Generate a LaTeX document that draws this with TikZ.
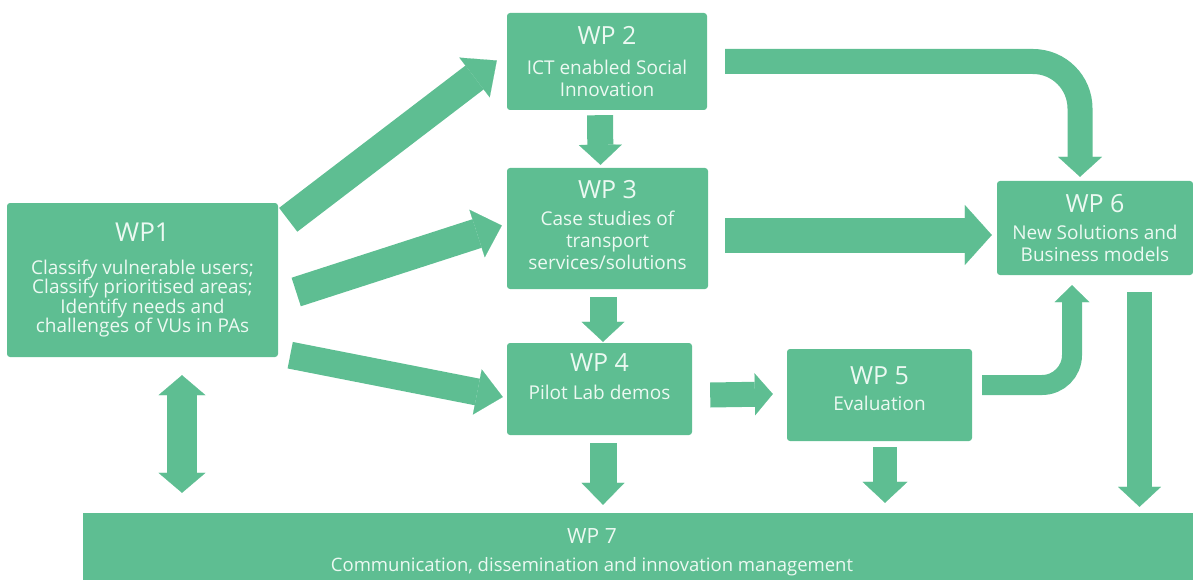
\documentclass[tikz,border=0pt]{standalone}
\usepackage{fontspec}
\setmainfont{Open Sans}
\usetikzlibrary{arrows.meta,calc}
\definecolor{wpgreen}{RGB}{94,190,146}
\definecolor{wptext}{RGB}{236,249,242}
\newcommand{\wphead}[1]{{\fontsize{25}{28}\selectfont #1}}
\begin{document}
\begin{tikzpicture}[x=1pt,y=-1pt,
  wpbox/.style={fill=wpgreen, rounded corners=3pt, inner sep=0pt, text=wptext, align=center, font=\fontsize{19}{22}\selectfont},
  fat/.style n args={3}{draw=wpgreen, line width=#1, -{Triangle[width=#2,length=#3,line width=0.1pt]}},
  fatboth/.style n args={3}{draw=wpgreen, line width=#1, {Triangle[width=#2,length=#3,line width=0.1pt]}-{Triangle[width=#2,length=#3,line width=0.1pt]}}
]
\useasboundingbox (0,0) rectangle (1193,580);

\node[wpbox, minimum width=271pt, minimum height=154pt, font=\fontsize{19}{19.5}\selectfont] (wp1) at (142.5,280)
  {{\fontsize{26}{30}\selectfont WP1}\\[13pt]Classify vulnerable users;\\Classify prioritised areas;\\Identify needs and\\challenges of VUs in PAs};
\node[wpbox, minimum width=200pt, minimum height=97pt] (wp2) at (607,61.5)
  {\wphead{WP 2}\\[8pt]ICT enabled Social\\Innovation};
\node[wpbox, minimum width=201pt, minimum height=121pt] (wp3) at (607.5,228.5)
  {\wphead{WP 3}\\[5pt]Case studies of\\transport\\services/solutions\\[-14pt]\mbox{}};
\node[wpbox, minimum width=185pt, minimum height=92pt] (wp4) at (599.5,389)
  {\wphead{WP 4}\\[6pt]Pilot Lab demos\\[2pt]\mbox{}};
\node[wpbox, minimum width=185pt, minimum height=92pt] (wp5) at (879.5,395)
  {\wphead{WP 5}\\[4pt]Evaluation\\[-10pt]\mbox{}};
\node[wpbox, minimum width=196pt, minimum height=94pt] (wp6) at (1095,228)
  {\wphead{WP 6}\\[5pt]New Solutions and\\Business models};
\node[wpbox, rounded corners=0pt, minimum width=1110pt, minimum height=67pt] (wp7) at (638,546.5) {};
\node[text=wptext, align=center, inner sep=0pt, font=\fontsize{18.5}{28}\selectfont] (wp7text) at (592,552)
  {{\fontsize{21}{24}\selectfont WP 7}\\Communication, dissemination and innovation management};

\draw[fat={30pt}{50pt}{28pt}] ($(wp1.north east)+(10,17)$) -- ($(wp2.west)+(-10,-1)$);
\draw[fat={30pt}{50pt}{26pt}] ($(wp1.east)+(18,12)$) -- ($(wp3.west)+(-5,-3)$);
\draw[fat={27pt}{46pt}{26pt}] ($(wp1.south east)+(12,-2)$) -- ($(wp4.west)+(-4,8)$);
\draw[fat={26pt}{43pt}{20pt}] ($(wp2.south)+(-7,5)$) -- ($(wp3.north)+(-7,-3)$);
\draw[fat={27pt}{43pt}{20pt}] ($(wp3.south)+(-4.5,8)$) -- ($(wp4.north)+(3.5,-1)$);
\draw[fat={27pt}{43pt}{22pt}] ($(wp4.south)+(3.5,8)$) -- ($(wp4.south |- wp7.north)+(3.5,-8)$);
\draw[fat={24pt}{45pt}{21pt}] ($(wp5.south)+(5.5,6)$) -- ($(wp5.south |- wp7.north)+(5.5,-10)$);
\draw[fat={25pt}{43pt}{20pt}] ($(wp6.south)+(44.5,17)$) -- ($(wp6.south |- wp7.north)+(44.5,-6)$);
\draw[fatboth={30pt}{47pt}{20pt}] ($(wp1.south)+(39.5,18)$) -- ($(wp1.south |- wp7.north)+(39.5,-20)$);
\draw[fat={25pt}{42pt}{18pt}] ($(wp4.east)+(18,6)$) -- ($(wp5.west)+(-14,-1)$);
\draw[fat={35pt}{60pt}{27pt}] ($(wp3.east)+(17,6.5)$) -- ($(wp6.west)+(-5,7)$);
\draw[fat={25pt}{44pt}{20pt}, rounded corners=47pt] ($(wp2.east)+(18,0)$) -| ($(wp6.north)+(-15,-4)$);
\draw[fat={20pt}{35pt}{17pt}, rounded corners=30pt] ($(wp5.east)+(10,-10)$) -| ($(wp6.south)+(-23,10)$);
\end{tikzpicture}
\end{document}
